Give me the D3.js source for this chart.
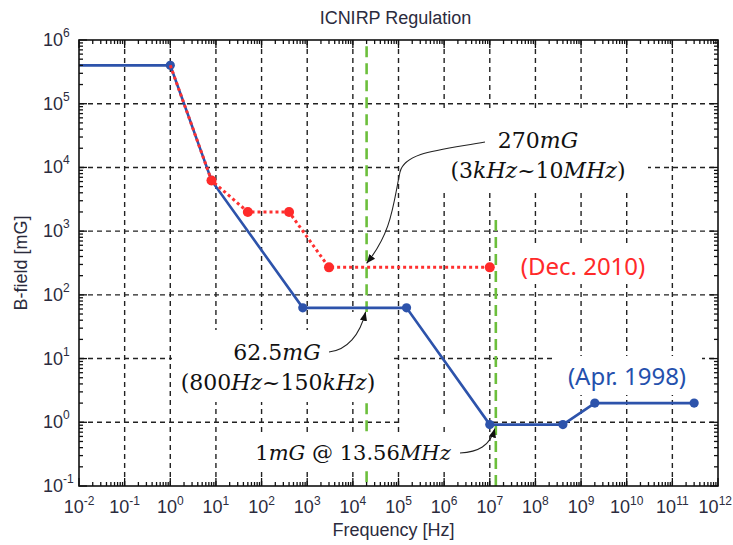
<!DOCTYPE html>
<html>
<head>
<meta charset="utf-8">
<script src="https://cdn.jsdelivr.net/npm/d3@7"></script>
<style>
  body { margin: 0; background: #fff; }
  .tick-label { font-family: "Liberation Sans", Arial, sans-serif; fill: #2b2b3d; }
  .math { font-family: "DejaVu Serif", serif; fill: #111; }
</style>
</head>
<body>
<div id="chart"></div>
<script>
// ICNIRP reference levels, B-field [mG] vs frequency [Hz]
const freqApr1998 = [1e-2, 1, 8, 800, 1.5e5, 1e7, 4e8, 2e9, 3e11];
const bApr1998 = [4e5, 4e5, 6250, 62.5, 62.5, 0.92, 0.92, 2.0, 2.0];

const freqDec2010 = [1, 8, 50, 400, 3000, 1e7];
const bDec2010 = [4e5, 6250, 2000, 2000, 270, 270];

// green markers: 20 kHz and 13.56 MHz
const greenFreqs = [2e4, 13.56e6];
const greenTops = [8e5, 1.5e3];

const xExponents = [-2, -1, 0, 1, 2, 3, 4, 5, 6, 7, 8, 9, 10, 11, 12];
const yExponents = [-1, 0, 1, 2, 3, 4, 5, 6];

const W = 733, H = 545;
const plotL = 79, plotR = 718, plotT = 40, plotB = 486;

const x = d3.scaleLog().domain([1e-2, 1e12]).range([plotL, plotR]);
const y = d3.scaleLog().domain([1e-1, 1e6]).range([plotB, plotT]);

const svg = d3.select("#chart").append("svg")
  .attr("width", W).attr("height", H);

svg.append("rect").attr("width", W).attr("height", H).attr("fill", "#fff");

const defs = svg.append("defs");
defs.append("clipPath").attr("id", "plot-clip")
  .append("rect")
  .attr("x", plotL).attr("y", plotT)
  .attr("width", plotR - plotL).attr("height", plotB - plotT);
defs.append("marker")
  .attr("id", "arrow")
  .attr("viewBox", "0 -5 10 10")
  .attr("refX", 10).attr("refY", 0)
  .attr("markerWidth", 9).attr("markerHeight", 9)
  .attr("markerUnits", "userSpaceOnUse")
  .attr("orient", "auto")
  .append("path").attr("d", "M0,-4L10,0L0,4Z").attr("fill", "#111");

const xMajor = xExponents.map(e => Math.pow(10, e));
const yMajor = yExponents.map(e => Math.pow(10, e));
const xMinor = [], yMinor = [];
xMajor.slice(0, -1).forEach(d => { for (let k = 2; k < 10; k++) xMinor.push(d * k); });
yMajor.slice(0, -1).forEach(d => { for (let k = 2; k < 10; k++) yMinor.push(d * k); });

// grid
const grid = svg.append("g")
  .attr("stroke", "#222").attr("stroke-width", 1.4)
  .attr("stroke-dasharray", "5,4");
grid.selectAll(".gx").data(xMajor.slice(1, -1)).enter().append("line")
  .attr("x1", d => x(d)).attr("x2", d => x(d))
  .attr("y1", plotT).attr("y2", plotB);
grid.selectAll(".gy").data(yMajor.slice(1, -1)).enter().append("line")
  .attr("x1", plotL).attr("x2", plotR)
  .attr("y1", d => y(d)).attr("y2", d => y(d));

// green dashed lines
svg.append("g").selectAll("line")
  .data(greenFreqs).enter().append("line")
  .attr("x1", d => x(d)).attr("x2", d => x(d))
  .attr("y1", (d, i) => y(greenTops[i])).attr("y2", plotB)
  .attr("stroke", "#6cbf3c").attr("stroke-width", 2.6)
  .attr("stroke-dasharray", "11,6");

// white boxes behind annotations (they hide the grid there)
const boxes = [
  [400, 112, 248, 80],
  [172, 330, 222, 72],
  [330, 312, 64, 20],
  [515, 246, 137, 38],
  [552, 356, 150, 39],
  [255, 436, 200, 34],
  [402, 414, 84, 12]
];
svg.append("g").selectAll("rect").data(boxes).enter().append("rect")
  .attr("x", d => d[0]).attr("y", d => d[1])
  .attr("width", d => d[2]).attr("height", d => d[3])
  .attr("fill", "#fff");

// series
const line = d3.line().x(d => x(d[0])).y(d => y(d[1]));
const apr = freqApr1998.map((f, i) => [f, bApr1998[i]]);
const dec = freqDec2010.map((f, i) => [f, bDec2010[i]]);

const plot = svg.append("g").attr("clip-path", "url(#plot-clip)");

plot.append("path").datum(apr)
  .attr("d", line).attr("fill", "none")
  .attr("stroke", "#2d53ab").attr("stroke-width", 2.6);
plot.selectAll(".apr-pt").data(apr.slice(1)).enter().append("circle")
  .attr("cx", d => x(d[0])).attr("cy", d => y(d[1]))
  .attr("r", 4.6).attr("fill", "#2d53ab");

plot.append("path").datum(dec)
  .attr("d", line).attr("fill", "none")
  .attr("stroke", "#ff3030").attr("stroke-width", 3)
  .attr("stroke-dasharray", "3,3");
plot.selectAll(".dec-pt").data(dec.slice(1)).enter().append("circle")
  .attr("cx", d => x(d[0])).attr("cy", d => y(d[1]))
  .attr("r", 5).attr("fill", "#ff2a2a");

// frame and ticks
svg.append("rect")
  .attr("x", plotL).attr("y", plotT)
  .attr("width", plotR - plotL).attr("height", plotB - plotT)
  .attr("fill", "none").attr("stroke", "#111").attr("stroke-width", 1.6);

const ticks = svg.append("g").attr("stroke", "#111").attr("stroke-width", 1.3);
function xTicks(vals, len) {
  ticks.selectAll(null).data(vals).enter().append("line")
    .attr("x1", d => x(d)).attr("x2", d => x(d))
    .attr("y1", plotB).attr("y2", plotB - len);
  ticks.selectAll(null).data(vals).enter().append("line")
    .attr("x1", d => x(d)).attr("x2", d => x(d))
    .attr("y1", plotT).attr("y2", plotT + len);
}
function yTicks(vals, len) {
  ticks.selectAll(null).data(vals).enter().append("line")
    .attr("x1", plotL).attr("x2", plotL + len)
    .attr("y1", d => y(d)).attr("y2", d => y(d));
  ticks.selectAll(null).data(vals).enter().append("line")
    .attr("x1", plotR).attr("x2", plotR - len)
    .attr("y1", d => y(d)).attr("y2", d => y(d));
}
xTicks(xMajor, 8); xTicks(xMinor, 4);
yTicks(yMajor, 8); yTicks(yMinor, 4);

// tick labels
const xl = svg.append("g").selectAll("text").data(xExponents).enter().append("text")
  .attr("class", "tick-label")
  .attr("x", e => x(Math.pow(10, e)))
  .attr("y", 513)
  .attr("text-anchor", "middle")
  .attr("font-size", 18);
xl.append("tspan").text("10");
xl.append("tspan").attr("dy", -8).attr("font-size", 12).text(e => e);
// keep the last label inside the window
xl.each(function () {
  const w = this.getComputedTextLength();
  const cx = +this.getAttribute("x");
  if (cx + w / 2 > W - 1) this.setAttribute("x", W - 1 - w / 2);
});

const yl = svg.append("g").selectAll("g").data(yExponents).enter().append("g");
yl.append("text").attr("class", "tick-label")
  .attr("x", 63).attr("y", e => y(Math.pow(10, e)) + 6)
  .attr("text-anchor", "end").attr("font-size", 18).text("10");
yl.append("text").attr("class", "tick-label")
  .attr("x", 63).attr("y", e => y(Math.pow(10, e)) - 3)
  .attr("font-size", 12).text(e => e);

// titles
svg.append("text").attr("class", "tick-label")
  .attr("x", (plotL + plotR) / 2 - 3).attr("y", 24)
  .attr("text-anchor", "middle").attr("font-size", 18)
  .text("ICNIRP Regulation");
svg.append("text").attr("class", "tick-label")
  .attr("x", (plotL + plotR) / 2 - 5).attr("y", 536)
  .attr("text-anchor", "middle").attr("font-size", 18)
  .text("Frequency [Hz]");
svg.append("text").attr("class", "tick-label")
  .attr("transform", `translate(27,${(plotT + plotB) / 2}) rotate(-90)`)
  .attr("text-anchor", "middle").attr("font-size", 18)
  .text("B-field [mG]");

// series labels
svg.append("text")
  .attr("x", 583).attr("y", 275)
  .attr("text-anchor", "middle")
  .attr("font-family", "'Noto Sans', sans-serif").attr("font-size", 24)
  .attr("fill", "#ff2a2a").text("(Dec. 2010)");
svg.append("text")
  .attr("x", 627).attr("y", 385)
  .attr("text-anchor", "middle")
  .attr("font-family", "'Noto Sans', sans-serif").attr("font-size", 24)
  .attr("fill", "#2450ad").text("(Apr. 1998)");

// math style annotations: [text, italic?]
function mathText(cx, cy, size, parts) {
  const t = svg.append("text").attr("class", "math")
    .attr("x", cx).attr("y", cy)
    .attr("text-anchor", "middle").attr("font-size", size);
  parts.forEach(p => t.append("tspan")
    .attr("font-style", p[1] ? "italic" : "normal").text(p[0]));
  return t;
}
mathText(538, 148, 22, [["270", 0], ["mG", 1]]);
mathText(538, 178, 22, [["(3", 0], ["kHz", 1], ["~10", 0], ["MHz", 1], [")", 0]]);
mathText(277, 360, 22, [["62.5", 0], ["mG", 1]]);
mathText(278, 390, 22, [["(800", 0], ["Hz", 1], ["~150", 0], ["kHz", 1], [")", 0]]);
mathText(353, 460, 21, [["1", 0], ["mG", 1], [" @ 13.56", 0], ["MHz", 1]]);

// arrows
const tip1 = [x(greenFreqs[0]), y(bDec2010[4])];
const tip2 = [x(greenFreqs[0]), y(bApr1998[3])];
const tip3 = [x(greenFreqs[1]), y(bApr1998[5])];
const arrows = [
  `M485,142 C440,150 405,152 400,172 C393,205 392,232 ${tip1[0]},${tip1[1] - 4}`,
  `M329,352 C347,350 360,335 ${tip2[0] - 1},${tip2[1] + 4}`,
  `M460,453 C478,452 490,446 ${tip3[0] - 1},${tip3[1] + 4}`
];
svg.append("g").selectAll("path").data(arrows).enter().append("path")
  .attr("d", d => d).attr("fill", "none")
  .attr("stroke", "#222").attr("stroke-width", 1.1)
  .attr("marker-end", "url(#arrow)");
</script>
</body>
</html>
